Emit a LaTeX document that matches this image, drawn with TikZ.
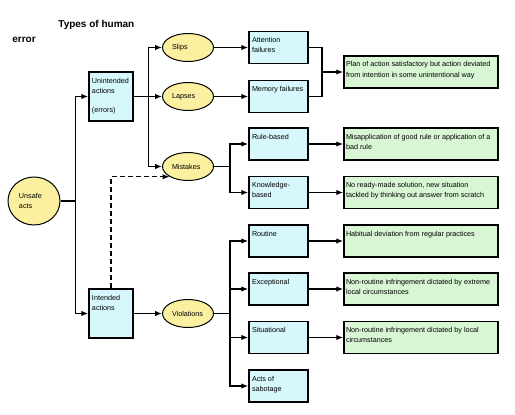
\documentclass[tikz,border=0pt]{standalone}
\usepackage{fontspec}
\setmainfont{Liberation Sans}
\usetikzlibrary{shapes}
\usetikzlibrary{positioning}
\usetikzlibrary{arrows.meta}
\definecolor{boxblue}{RGB}{214,247,252}
\definecolor{boxgreen}{RGB}{216,245,212}
\definecolor{ovalyellow}{RGB}{250,240,160}
\newcommand{\boxtext}[3]{\parbox[c][#1][t]{#2}{\raggedright\strut #3}}

\begin{document}
\begin{tikzpicture}[
	x=1pt, y=-1pt,
	thick,
	font=\fontsize{7.2}{10}\selectfont
]
\tikzset{
    ovalnode/.style = {ellipse, draw=black, fill=ovalyellow, inner sep=0pt, align=left,
                       text width=32pt, minimum width=51pt, minimum height=28pt, line width=1pt},
    bluenode/.style = {rectangle, draw=black, fill=boxblue, inner xsep=3pt, inner ysep=4pt, line width=1.5pt},
    greennode/.style = {rectangle, draw=black, fill=boxgreen, inner xsep=2pt, inner ysep=4pt, line width=1.5pt},
    edgea/.style = {-{Latex[length=7pt,width=5.5pt]}, line width=1.3pt},
    edged/.style = {edgea, dash pattern=on 5pt off 3pt}
}
\useasboundingbox (0,0) rectangle (515,415);
\node[font=\bfseries\fontsize{10}{15}\selectfont, align=left, anchor=north west, inner sep=0pt]
     at (12,20) (title) {\hspace*{46pt}Types of human\\error};
%
\node[ovalnode, text width=30pt, minimum width=52pt, minimum height=48pt] at (34,201) (unsafe) {Unsafe\\acts};
\node[bluenode] at (111,96.5) (unint) {\boxtext{41pt}{38pt}{Unintended\\actions\\[9pt](errors)}};
\node[bluenode] at (111,313.5) (intend) {\boxtext{41pt}{38pt}{Intended\\actions}};
%
\node[ovalnode] at (188,47.5) (slips) {Slips};
\node[ovalnode] at (188,96.5) (lapses) {Lapses};
\node[ovalnode] at (188,166.5) (mistakes) {Mistakes};
\node[ovalnode] at (188,313.5) (violat) {Violations};
%
\node[bluenode] at (278.5,47.5) (attn) {\boxtext{24pt}{53pt}{Attention\\failures}};
\node[bluenode] at (278.5,96.5) (mem) {\boxtext{24pt}{53pt}{Memory failures}};
\node[bluenode] at (278.5,144) (rule) {\boxtext{24pt}{53pt}{Rule-based}};
\node[bluenode] at (278.5,192.5) (know) {\boxtext{24pt}{53pt}{Knowledge-\\based}};
\node[bluenode] at (278.5,241) (routine) {\boxtext{24pt}{53pt}{Routine}};
\node[bluenode] at (278.5,289) (except) {\boxtext{24pt}{53pt}{Exceptional}};
\node[bluenode] at (278.5,337.5) (situ) {\boxtext{24pt}{53pt}{Situational}};
\node[bluenode] at (278.5,386) (sabot) {\boxtext{24pt}{53pt}{Acts of\\sabotage}};
%
\node[greennode] at (421,72) (plan) {\boxtext{24pt}{150pt}{Plan of action satisfactory but action deviated\\from intention in some unintentional way}};
\node[greennode] at (421,144) (misapp) {\boxtext{24pt}{150pt}{Misapplication of good rule or application of a\\bad rule}};
\node[greennode] at (421,192.5) (noready) {\boxtext{24pt}{150pt}{No ready-made solution, new situation\\tackled by thinking out answer from scratch}};
\node[greennode] at (421,241) (habit) {\boxtext{24pt}{150pt}{Habitual deviation from regular practices}};
\node[greennode] at (421,289) (extreme) {\boxtext{24pt}{150pt}{Non-routine infringement dictated by extreme\\local circumstances}};
\node[greennode] at (421,337.5) (local) {\boxtext{24pt}{150pt}{Non-routine infringement dictated by local\\circumstances}};
\coordinate (join) at (322,72);
%
\draw[edgea] (unsafe.east) -- ++(15,0) |- (unint.west);
\draw[edgea] (unsafe.east) -- ++(15,0) |- (intend.west);
%
\draw[edgea] (unint.east) -- ++(15,0) |- (slips.west);
\draw[edgea] (unint.east) -- (lapses.west);
\draw[edgea] (unint.east) -- ++(15,0) |- (mistakes.west);
\draw[edged] (intend.north) |- (mistakes.south west);
\draw[edgea] (intend.east) -- (violat.west);
%
\draw[edgea] (slips.east) -- (attn.west);
\draw[edgea] (lapses.east) -- (mem.west);
\draw[edgea] (mistakes.east) -- ++(16,0) |- (rule.west);
\draw[edgea] (mistakes.east) -- ++(16,0) |- (know.west);
\draw[edgea] (violat.east) -- ++(16,0) |- (routine.west);
\draw[edgea] (violat.east) -- ++(16,0) |- (except.west);
\draw[edgea] (violat.east) -- ++(16,0) |- (situ.west);
\draw[edgea] (violat.east) -- ++(16,0) |- (sabot.west);
%
\draw[line width=1.3pt] (attn.east) -| (join);
\draw[line width=1.3pt] (mem.east) -| (join);
\draw[edgea] (join) -- (plan.west);
\draw[edgea] (rule.east) -- (misapp.west);
\draw[edgea] (know.east) -- (noready.west);
\draw[edgea] (routine.east) -- (habit.west);
\draw[edgea] (except.east) -- (extreme.west);
\draw[edgea] (situ.east) -- (local.west);
\end{tikzpicture}
\end{document}
